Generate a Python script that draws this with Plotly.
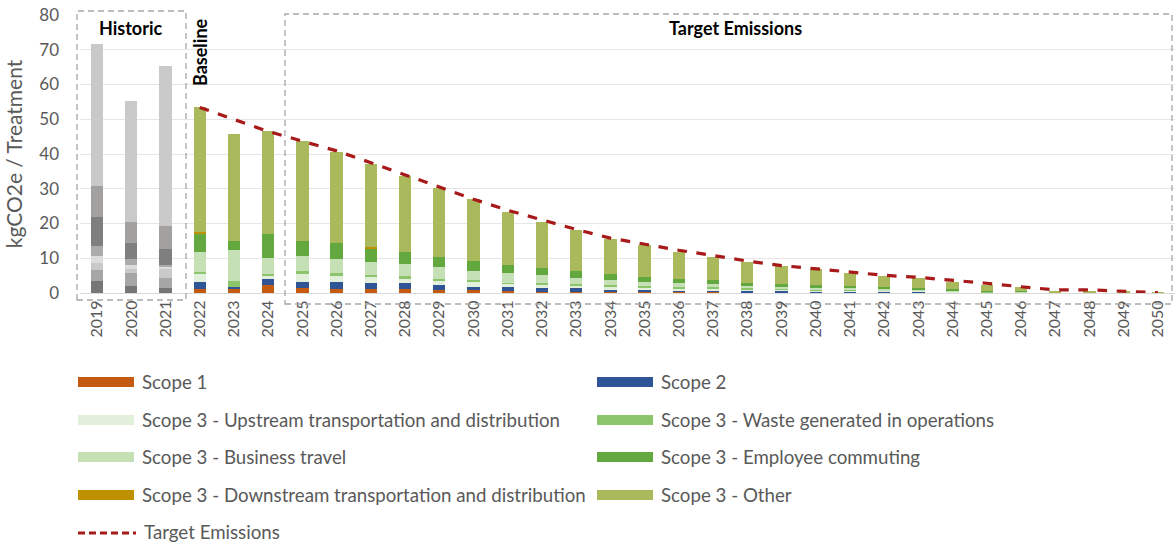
import plotly.graph_objects as go

years = [str(y) for y in range(2019, 2051)]
historic_years = ["2019", "2020", "2021"]

scope1 = [3.35, 2.1, 1.4, 1.05, 1.05, 2.3, 1.35, 1.05, 1.05, 1.05, 1.0, 1.0,
          0.5, 0.3, 0.3, 0.4, 0.3, 0.3, 0.3, 0.2, 0.2, 0.2,
          0.1, 0.1, 0.1, 0.05, 0.05, 0, 0, 0, 0, 0]
scope2 = [3.15, 3.6, 2.9, 2.15, 0.75, 1.7, 1.95, 2.25, 1.75, 1.75, 1.3, 0.8,
          1.3, 1.1, 1.1, 0.5, 0.5, 0.4, 0.4, 0.4, 0.4, 0.3,
          0.3, 0.3, 0.3, 0.1, 0.05, 0.05, 0, 0, 0, 0]
upstream = [2.1, 1.2, 2.6, 2.3, 0.0, 0.9, 2.2, 1.7, 1.7, 1.2, 1.2, 1.3,
            0.8, 0.8, 0.8, 0.9, 0.7, 0.6, 0.5, 0.4, 0.3, 0.3,
            0.3, 0.2, 0.2, 0.2, 0.1, 0.1, 0.05, 0.03, 0.02, 0]
waste = [2.1, 1.2, 0.6, 0.6, 1.7, 0.6, 0.7, 0.8, 0.8, 0.8, 0.5, 0.6,
         0.4, 0.6, 0.4, 0.5, 0.5, 0.4, 0.4, 0.3, 0.3, 0.2,
         0.2, 0.2, 0.1, 0.1, 0.1, 0.05, 0.05, 0.02, 0.02, 0]
business = [2.7, 1.7, 0.6, 5.8, 8.9, 4.7, 4.4, 4.0, 3.5, 3.5, 3.6, 2.7,
            2.7, 2.3, 1.6, 1.4, 1.2, 1.1, 0.9, 0.8, 0.6, 0.5,
            0.5, 0.4, 0.3, 0.3, 0.2, 0.1, 0.05, 0.05, 0.03, 0.02]
commuting = [8.4, 4.6, 4.5, 5.1, 2.6, 6.8, 4.5, 4.5, 4.0, 3.5, 2.9, 2.8,
             2.5, 2.1, 2.0, 1.7, 1.4, 1.2, 1.1, 0.9, 0.8, 0.7,
             0.6, 0.5, 0.4, 0.3, 0.2, 0.15, 0.1, 0.05, 0.03, 0.02]
downstream = [9.1, 5.9, 6.8, 0.6, 0, 0, 0, 0, 0.5, 0, 0, 0,
              0, 0, 0, 0, 0, 0, 0, 0, 0, 0,
              0, 0, 0, 0, 0, 0, 0, 0, 0, 0]
other = [40.9, 35.0, 45.9, 35.8, 30.7, 29.7, 28.6, 26.4, 23.8, 21.9, 19.6, 17.8,
         15.2, 13.3, 11.9, 10.0, 9.2, 7.9, 6.9, 6.0, 5.2, 4.7,
         3.85, 3.2, 2.8, 2.25, 1.6, 1.15, 0.45, 0.35, 0.2, 0.06]
target = [None, None, None, 53.4, 50.0, 46.5, 43.7, 40.9, 37.5, 34.0, 30.4, 27.0,
          23.8, 21.0, 18.3, 15.8, 14.0, 12.3, 10.8, 9.2, 7.9, 6.9,
          6.0, 5.1, 4.5, 3.7, 2.8, 1.8, 0.9, 0.9, 0.5, 0.1]

series_names = [
    "Scope 1", "Scope 2",
    "Scope 3 - Upstream transportation and distribution", "Scope 3 - Waste generated in operations",
    "Scope 3 - Business travel", "Scope 3 - Employee commuting",
    "Scope 3 - Downstream transportation and distribution", "Scope 3 - Other",
]
series_values = [scope1, scope2, upstream, waste, business, commuting, downstream, other]
series_colors = ["#c55a11", "#2f5597", "#e2efda", "#8cc56c", "#c5e0b4", "#62a83e", "#bf9000", "#a9b95c"]
historic_greys = ["#767676", "#a6a6a6", "#c9c9c9", "#dcdcdc", "#ababab", "#7f7f7f", "#a3a0a0", "#c9c9c9"]
target_name = "Target Emissions"
target_color = "#a81a1a"

TEXT = "#595959"
FONT = "Lato"
W, H = 1175, 545
ML, MR, MT, MB = 80, 0, 15, 252
PW, PH = W - ML - MR, H - MT - MB

def px_x(px):
    return (px - ML) / PW

def px_y(py):
    return (H - MB - py) / PH

fig = go.Figure()
for name, vals, col, grey in zip(series_names, series_values, series_colors, historic_greys):
    colors = [grey if y in historic_years else col for y in years]
    fig.add_trace(go.Bar(x=years, y=vals, name=name, marker=dict(color=colors, line=dict(width=0)),
                         showlegend=False))

fig.add_trace(go.Scatter(x=years, y=target, name=target_name, mode="lines",
                         line=dict(color=target_color, width=3.2, dash="dash"), showlegend=False))

shapes = []
annotations = []
dash_style = dict(color="#a6a6a6", width=1.3, dash="6px,4px")
# Historic box
shapes.append(dict(type="rect", xref="paper", yref="paper", x0=px_x(77), x1=px_x(186), y0=px_y(300), y1=px_y(11),
                   line=dash_style, fillcolor="rgba(0,0,0,0)", layer="above"))
# Target box
shapes.append(dict(type="rect", xref="paper", yref="paper", x0=px_x(285), x1=px_x(1172), y0=px_y(304), y1=px_y(14),
                   line=dash_style, fillcolor="rgba(0,0,0,0)", layer="above"))

annotations.append(dict(text="<b>Historic</b>", xref="paper", yref="paper", x=px_x(130), y=px_y(28),
                        xanchor="center", yanchor="middle",
                        showarrow=False, font=dict(family=FONT, size=18, color="#000000")))
annotations.append(dict(text="<b>Baseline</b>", xref="paper", yref="paper", x=px_x(200), y=px_y(52),
                        xanchor="center", yanchor="middle",
                        showarrow=False, textangle=-90, font=dict(family=FONT, size=18, color="#000000")))
annotations.append(dict(text="<b>Target Emissions</b>", xref="paper", yref="paper", x=px_x(736), y=px_y(28),
                        xanchor="center", yanchor="middle",
                        showarrow=False, font=dict(family=FONT, size=18, color="#000000")))

# Manual legend (two columns, swatch bars)
legend_rows = [382, 420, 457, 495]
col_x = [78, 597]
for i, (name, col) in enumerate(zip(series_names, series_colors)):
    r, c = divmod(i, 2)
    y = legend_rows[r]
    x0 = col_x[c]
    shapes.append(dict(type="rect", xref="paper", yref="paper", x0=px_x(x0), x1=px_x(x0 + 56),
                       y0=px_y(y + 5), y1=px_y(y - 5), line=dict(width=0), fillcolor=col))
    annotations.append(dict(text=name, xref="paper", yref="paper", x=px_x(x0 + 62), y=px_y(y),
                            xanchor="left", yanchor="middle", showarrow=False,
                            font=dict(family=FONT, size=18.7, color=TEXT)))
shapes.append(dict(type="line", xref="paper", yref="paper", x0=px_x(78), x1=px_x(136),
                   y0=px_y(533), y1=px_y(533), line=dict(color=target_color, width=3, dash="7px,4px")))
annotations.append(dict(text=target_name, xref="paper", yref="paper", x=px_x(142), y=px_y(532),
                        xanchor="left", yanchor="middle", showarrow=False,
                        font=dict(family=FONT, size=18.7, color=TEXT)))

fig.update_layout(
    width=W, height=H,
    margin=dict(l=ML, r=MR, t=MT, b=MB, autoexpand=False),
    paper_bgcolor="white", plot_bgcolor="white",
    barmode="stack", bargap=0.64,
    font=dict(family=FONT, color=TEXT),
    shapes=shapes, annotations=annotations,
    showlegend=False,
)
fig.update_xaxes(type="category", tickangle=-90, tickfont=dict(size=16, color=TEXT),
                 showgrid=False, showline=True, linecolor="#d9d9d9", linewidth=1, ticks="",
                 automargin=False)
fig.update_yaxes(range=[0, 80], dtick=10, tickfont=dict(size=17, color=TEXT),
                 gridcolor="#e6e6e6", gridwidth=1, zeroline=False, showline=False, ticks="",
                 ticklabelstandoff=20, automargin=False,
                 title=dict(text="kgCO2e / Treatment", font=dict(size=21, color=TEXT), standoff=10))

fig.write_html("out.html", config={"displayModeBar": False},
               post_script="document.body.style.margin='0';document.body.style.overflow='hidden';")
